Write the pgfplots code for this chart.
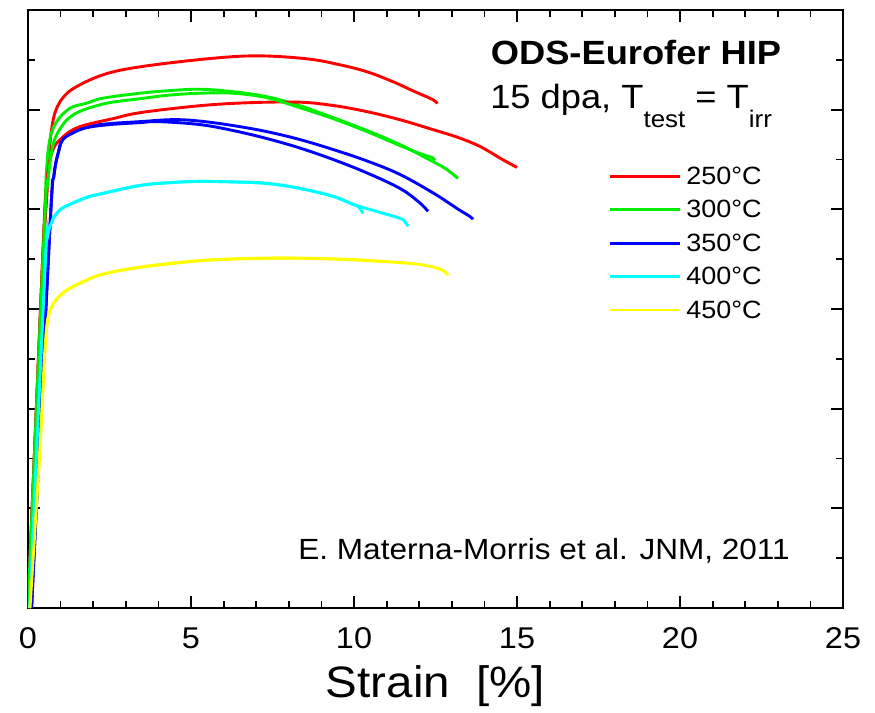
\documentclass[border=0pt]{standalone}
\usepackage{fontspec}
\setmainfont{Liberation Sans}[FakeStretch=1.08]
\usepackage{pgfplots}
\pgfplotsset{compat=1.18}

\definecolor{cRed}{RGB}{255,0,0}
\definecolor{cGreen}{RGB}{0,238,0}
\definecolor{cBlue}{RGB}{0,0,255}
\definecolor{cCyan}{RGB}{0,255,255}
\definecolor{cYellow}{RGB}{255,255,0}

\pgfplotsset{curve/.style={line width=1.45pt, smooth, tension=0.6}}

\begin{document}
\begin{tikzpicture}
\begin{axis}[
  width=407.5pt, height=299pt, scale only axis,
  xmin=0, xmax=25, ymin=0, ymax=1200,
  xtick={0,5,...,25}, minor x tick num=4,
  ytick={0,200,...,1200}, minor y tick num=1, yticklabels={},
  tick align=inside,
  major tick length=6pt, minor tick length=3.5pt,
  tick style={black, line width=0.9pt},
  axis line style={black, line width=1.2pt},
  /pgf/number format/assume math mode=true,
  ticklabel style={font=\fontsize{15}{18}\selectfont},
  xticklabel style={anchor=base, yshift=-20pt},
  xlabel={Strain\ \ [\%]},
  xlabel style={font=\fontsize{22}{26}\selectfont, anchor=base,
                at={(axis description cs:0.5,0)}, yshift=-44.5pt},
  legend cell align=left,
  legend style={draw=none, fill=none,
    at={(axis description cs:0.7043,0.7458)}, anchor=north west,
    font=\fontsize{12.5}{15}\selectfont,
    nodes={inner sep=0pt, text height=9pt, text depth=0pt},
    row sep=7.7pt, column sep=2.5pt},
  legend image code/.code={\draw[#1] (0pt,-0.5pt) -- (35pt,-0.5pt);},
]

% 250 C
\addplot[cRed, curve] coordinates {
 (0,0) (0.45,700) (0.52,770) (0.62,870) (0.68,936) (0.78,982) (0.9,1006)
 (1.0,1018) (1.38,1042) (2.30,1070) (3.44,1086) (5.49,1102) (7.02,1108)
 (8.56,1102) (9.57,1090) (10.4,1076) (11.2,1056) (11.8,1038) (12.42,1020)
 (12.55,1012)};
\addlegendentry{250°C}
% 300 C
\addplot[cGreen, curve] coordinates {
 (0,0) (0.5,775) (0.57,880) (0.67,940) (0.88,976) (1.29,1003) (1.80,1013)
 (2.30,1023) (3.44,1033) (4.3,1038) (5.28,1041) (6.3,1036) (7.33,1026)
 (8.34,1008) (9.36,984) (10.4,958) (11.41,930) (12.3,900) (12.8,882)
 (13.19,862)};
\addlegendentry{300°C}
% 350 C
\addplot[cBlue, curve] coordinates {
 (0.11,0) (0.67,760) (0.8,870) (0.95,920) (1.07,942) (1.4,956) (1.81,966)
 (2.5,972) (3.44,976) (4.45,980) (5.28,977) (6.3,968) (7.32,956)
 (8.34,940) (9.36,920) (10.4,897) (11.41,870) (12.45,832) (13.2,800)
 (13.55,786) (13.65,780)};
\addlegendentry{350°C}
% 400 C
\addplot[cCyan, curve] coordinates {
 (0.05,0) (0.52,680) (0.6,745) (0.7,770) (0.77,782) (1.0,800) (1.29,810)
 (1.8,824) (2.30,832) (3.44,848) (4.45,854) (5.28,856) (6.3,855)
 (7.33,852) (8.34,842) (9.36,826) (9.97,810) (10.12,806) (10.22,798)
 (10.28,792)};
\addlegendentry{400°C}
% 450 C
\addplot[cYellow, curve] coordinates {
 (0.06,0) (0.32,270) (0.45,430) (0.52,520) (0.61,582) (0.77,610) (1.0,628)
 (1.29,642) (1.8,658) (2.30,670) (3.44,684) (4.5,692) (5.49,698)
 (7.52,702) (9.57,700) (11.63,692) (12.3,686) (12.64,680) (12.8,674)
 (12.88,668)};
\addlegendentry{450°C}

% second specimen of each temperature
\addplot[cRed, curve, forget plot] coordinates {
 (0,0) (0.45,700) (0.55,830) (0.65,890) (0.8,925) (1.07,945) (1.38,960)
 (1.80,970) (2.61,982) (3.44,994) (5.28,1008) (6.8,1014) (8.34,1015)
 (9.4,1008) (10.4,996) (11.4,980) (12.42,960) (13.2,944) (13.87,926)
 (14.5,902) (15.0,884)};
\addplot[cGreen, curve, forget plot] coordinates {
 (0,0) (0.5,760) (0.6,850) (0.77,930) (1.07,970) (1.4,990) (1.81,1002)
 (2.5,1014) (3.44,1022) (4.3,1029) (5.28,1033) (6.3,1033) (7.33,1024)
 (8.34,1004) (9.36,982) (10.4,956) (11.41,928) (12.1,910) (12.4,904)
 (12.48,898)};
\addplot[cBlue, curve, forget plot] coordinates {
 (0.11,0) (0.67,760) (0.8,870) (0.95,918) (1.07,940) (1.4,954) (1.81,964)
 (2.5,970) (3.44,974) (4.0,976) (5.28,970) (6.3,958) (7.33,942)
 (8.34,923) (9.36,900) (10.4,873) (11.41,842) (12.0,814) (12.27,796)};
\addplot[cCyan, curve, forget plot] coordinates {
 (0.05,0) (0.52,680) (0.6,745) (0.7,770) (0.77,782) (1.0,800) (1.29,810)
 (1.8,824) (2.30,832) (3.44,848) (4.45,854) (5.28,856) (6.3,855)
 (7.33,852) (8.34,842) (9.36,826) (9.97,810) (10.58,798) (11.41,782)
 (11.55,776) (11.66,766)};
\addplot[cYellow, curve, forget plot] coordinates {
 (0.06,0) (0.32,270) (0.45,430) (0.52,520) (0.61,582) (0.77,610) (1.0,628)
 (1.29,642) (1.8,658) (2.30,670) (3.44,684) (5.49,698) (7.52,702)
 (9.57,700) (11.0,695)};

\node[anchor=base, font=\fontsize{16.8}{20}\selectfont\bfseries]
  at (axis cs:18.65,1090) {ODS-Eurofer HIP};
\node[anchor=base, font=\fontsize{16.8}{20}\selectfont]
  at (axis cs:18.5,1002) {15 dpa, T\raisebox{-9.5pt}{\fontsize{12}{14}\selectfont test} = T\raisebox{-9.5pt}{\fontsize{12}{14}\selectfont irr}};
\node[anchor=base, font=\fontsize{14.6}{17}\selectfont]
  at (axis cs:15.83,98) {E. Materna-Morris et al. JNM, 2011};
\end{axis}
\pgfresetboundingbox
\path[use as bounding box]
  ([xshift=-14pt,yshift=-52pt]current axis.south west)
  rectangle ([xshift=16pt,yshift=5pt]current axis.north east);
\end{tikzpicture}
\end{document}
